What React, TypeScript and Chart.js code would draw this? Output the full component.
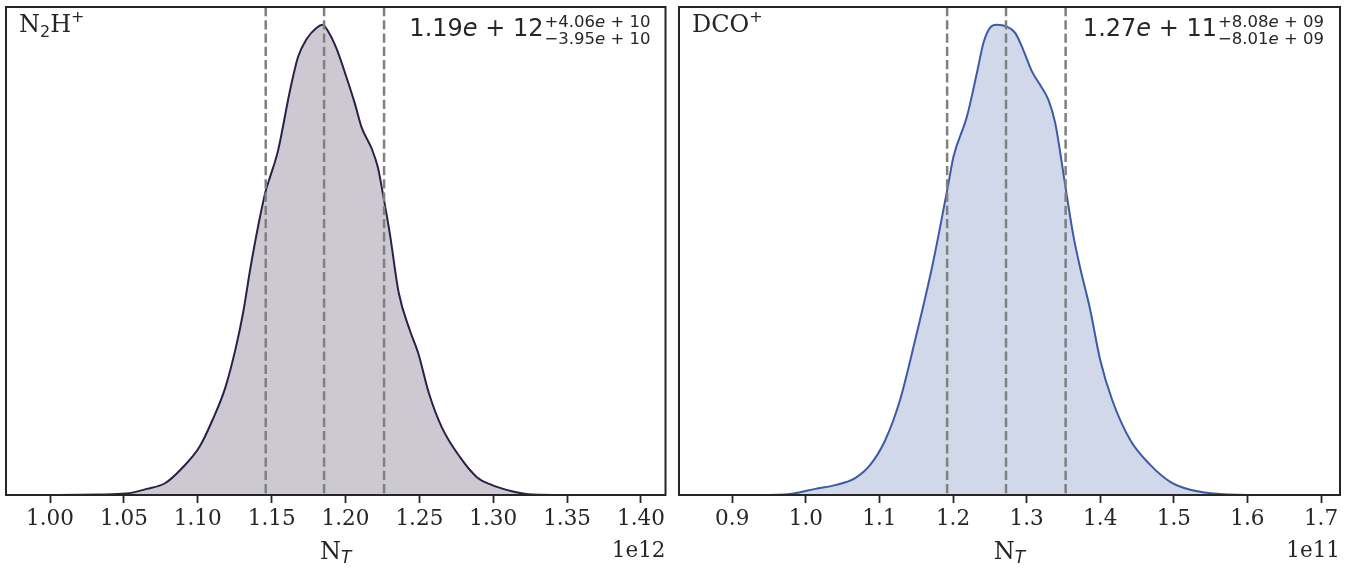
import React, { useEffect, useRef } from "react";
import { Chart, registerables } from "chart.js";

Chart.register(...registerables);

// ---------- data ----------
// N2H+ posterior density (x in units of 1e12, density relative to peak)
const n2hX = [0.9912, 1.0338, 1.0514, 1.0656, 1.0778, 1.0893, 1.1011, 1.1099, 1.1187, 1.1258, 1.1306, 1.1357, 1.1407, 1.1461, 1.1488, 1.1543, 1.1624, 1.1678, 1.1737, 1.1805, 1.1845, 1.1881, 1.194, 1.2007, 1.2064, 1.2109, 1.2177, 1.2219, 1.2253, 1.23, 1.2361, 1.2436, 1.2493, 1.2564, 1.2652, 1.2774, 1.2889, 1.2977, 1.3126, 1.3268, 1.3478, 1.395];
const n2hY = [0.0, 0.001, 0.003, 0.013, 0.025, 0.057, 0.102, 0.159, 0.229, 0.314, 0.386, 0.484, 0.569, 0.648, 0.675, 0.732, 0.86, 0.931, 0.97, 0.994, 1.0, 0.987, 0.949, 0.888, 0.832, 0.782, 0.737, 0.697, 0.641, 0.556, 0.429, 0.35, 0.301, 0.217, 0.144, 0.081, 0.038, 0.023, 0.008, 0.001, 0.0, 0.0];

// DCO+ posterior density (x in units of 1e11)
const dcoX = [0.87, 0.938, 0.979, 0.9924, 1.0128, 1.04, 1.067, 1.0875, 1.108, 1.128, 1.1486, 1.1713, 1.1826, 1.1939, 1.2007, 1.2189, 1.2325, 1.2414, 1.2505, 1.2596, 1.2732, 1.2845, 1.2954, 1.3072, 1.3185, 1.3298, 1.3389, 1.3457, 1.3548, 1.3637, 1.3728, 1.3864, 1.4, 1.4163, 1.4408, 1.468, 1.4951, 1.5223, 1.563, 1.617, 1.685];
const dcoY = [0.0, 0.0, 0.002, 0.006, 0.013, 0.021, 0.036, 0.064, 0.117, 0.202, 0.33, 0.483, 0.571, 0.664, 0.72, 0.805, 0.898, 0.962, 0.994, 1.0, 0.996, 0.983, 0.947, 0.901, 0.872, 0.84, 0.791, 0.728, 0.635, 0.55, 0.483, 0.394, 0.287, 0.202, 0.117, 0.064, 0.028, 0.011, 0.002, 0.0, 0.0];

const n2hTicks = [1.0, 1.05, 1.1, 1.15, 1.2, 1.25, 1.3, 1.35, 1.4];
const n2hTickLabels = ["1.00", "1.05", "1.10", "1.15", "1.20", "1.25", "1.30", "1.35", "1.40"];
const dcoTicks = [0.9, 1.0, 1.1, 1.2, 1.3, 1.4, 1.5, 1.6, 1.7];
const dcoTickLabels = ["0.9", "1.0", "1.1", "1.2", "1.3", "1.4", "1.5", "1.6", "1.7"];

// 16th, 50th, 84th percentiles
const n2hQuantiles = [1.146, 1.1855, 1.2261];
const dcoQuantiles = [1.192, 1.272, 1.353];

// annotation text pieces: value, exponent, upper err, lower err
const n2hAnn = ["1.19", "12", "+4.06", "10", "\u22123.95", "10"];
const dcoAnn = ["1.27", "11", "+8.08", "09", "\u22128.01", "09"];

// species labels: [text, kind] where kind n=normal, sub, sup
const n2hLabel = [["N", "n"], ["2", "sub"], ["H", "n"], ["+", "sup"]];
const dcoLabel = [["DCO", "n"], ["+", "sup"]];

const SERIF = "'DejaVu Serif', serif";
const SANS = "'DejaVu Sans', sans-serif";
const INK = "#262626";

type Run = { t: string; f: string; dy?: number };

function runsWidth(ctx: CanvasRenderingContext2D, runs: Run[]) {
  let w = 0;
  for (const r of runs) {
    ctx.font = r.f;
    w += ctx.measureText(r.t).width;
  }
  return w;
}
function drawRuns(ctx: CanvasRenderingContext2D, runs: Run[], x: number, y: number) {
  let cx = x;
  for (const r of runs) {
    ctx.font = r.f;
    ctx.fillText(r.t, cx, y + (r.dy || 0));
    cx += ctx.measureText(r.t).width;
  }
  return cx;
}

function sciRuns(mant: string, exp: string, size: number): Run[] {
  const n = `${size}px ${SANS}`;
  const it = `italic ${size}px ${SANS}`;
  return [
    { t: mant, f: n },
    { t: "e", f: it },
    { t: " + ", f: n },
    { t: exp, f: n },
  ];
}

function labelRuns(parts: string[][]): Run[] {
  return parts.map(([t, k]) => {
    if (k === "sub") return { t, f: `16px ${SANS}`, dy: 5 };
    if (k === "sup") return { t, f: `16px ${SANS}`, dy: -10 };
    return { t, f: `24px ${SERIF}` };
  });
}

const decor = {
  id: "decor",
  afterDatasetsDraw(chart: any, _args: any, opts: any) {
    const { ctx, chartArea } = chart;
    const xs = chart.scales.x;
    const { left, right, top, bottom } = chartArea;
    ctx.save();
    // dashed quantile lines
    ctx.strokeStyle = "#808080";
    ctx.lineWidth = 2.5;
    ctx.setLineDash([9.25, 4]);
    for (const q of opts.quantiles) {
      const px = xs.getPixelForValue(q);
      ctx.beginPath();
      ctx.moveTo(px, top);
      ctx.lineTo(px, bottom);
      ctx.stroke();
    }
    ctx.setLineDash([]);
    // frame
    ctx.strokeStyle = INK;
    ctx.lineWidth = 2;
    ctx.strokeRect(left, top, right - left, bottom - top);

    ctx.fillStyle = INK;
    ctx.textBaseline = "alphabetic";
    ctx.textAlign = "left";
    // species label
    drawRuns(ctx, labelRuns(opts.label), left + 13, top + 25);

    // annotation
    const a = opts.ann as string[];
    const main = sciRuns(a[0], a[1], 24);
    const up = sciRuns(a[2], a[3], 16.5);
    const dn = sciRuns(a[4], a[5], 16.5);
    const wMain = runsWidth(ctx, main);
    const wStack = Math.max(runsWidth(ctx, up), runsWidth(ctx, dn));
    const xEnd = right - opts.annRight;
    const x0 = xEnd - wStack - wMain - 1;
    drawRuns(ctx, main, x0, top + 29);
    drawRuns(ctx, up, x0 + wMain + 1, top + 20);
    drawRuns(ctx, dn, x0 + wMain + 1, top + 37);

    // x label N_T
    ctx.font = `24px ${SERIF}`;
    const wN = ctx.measureText("N").width;
    ctx.font = `italic 17px ${SANS}`;
    const wT = ctx.measureText("T").width;
    const cx = (left + right) / 2 - (wN + wT) / 2;
    ctx.font = `24px ${SERIF}`;
    ctx.fillText("N", cx, 559);
    ctx.font = `italic 17px ${SANS}`;
    ctx.fillText("T", cx + wN, 563);

    // offset text
    ctx.font = `21.5px ${SERIF}`;
    ctx.textAlign = "right";
    ctx.fillText(opts.offset, right, 557);
    ctx.restore();
  },
};

function makeConfig(
  xs: number[],
  ys: number[],
  ticks: number[],
  tickLabels: string[],
  xmin: number,
  xmax: number,
  line: string,
  fill: string,
  decorOpts: any,
  pad: { left: number; right: number }
): any {
  return {
    type: "line",
    data: {
      datasets: [
        {
          data: xs.map((x, i) => ({ x, y: ys[i] })),
          borderColor: line,
          backgroundColor: fill,
          borderWidth: 2,
          fill: "origin",
          pointRadius: 0,
          cubicInterpolationMode: "monotone",
        },
      ],
    },
    options: {
      animation: false,
      responsive: false,
      devicePixelRatio: 1,
      layout: { autoPadding: false, padding: { left: pad.left, right: pad.right, top: 7, bottom: 0 } },
      plugins: { legend: { display: false }, tooltip: { enabled: false }, decor: decorOpts },
      scales: {
        x: {
          type: "linear",
          min: xmin,
          max: xmax,
          afterFit: (s: any) => {
            s.height = 76;
          },
          afterBuildTicks: (s: any) => {
            s.ticks = ticks.map((v) => ({ value: v }));
          },
          grid: { drawOnChartArea: false, drawTicks: true, tickLength: 8, tickColor: INK, tickWidth: 1.8 },
          border: { display: false },
          ticks: {
            padding: 4,
            color: INK,
            font: { family: "'DejaVu Serif', serif", size: 21.5 },
            maxRotation: 0,
            autoSkip: false,
            callback: (v: number) => {
              const i = ticks.findIndex((t) => Math.abs(t - v) < 1e-9);
              return i >= 0 ? tickLabels[i] : "";
            },
          },
        },
        y: { type: "linear", display: false, min: 0, max: 1.038 },
      },
    },
    plugins: [decor],
  };
}

export default function App() {
  const c1 = useRef<HTMLCanvasElement>(null);
  const c2 = useRef<HTMLCanvasElement>(null);
  useEffect(() => {
    const ch1 = new Chart(
      c1.current!,
      makeConfig(n2hX, n2hY, n2hTicks, n2hTickLabels, 0.9702, 1.4166, "#2c1f48", "rgba(44,31,72,0.24)",
        { quantiles: n2hQuantiles, ann: n2hAnn, annRight: 15, offset: "1e12", label: n2hLabel },
        { left: 6, right: 7.5 })
    );
    const ch2 = new Chart(
      c2.current!,
      makeConfig(dcoX, dcoY, dcoTicks, dcoTickLabels, 0.8277, 1.7258, "#3b5ba5", "rgba(59,91,165,0.24)",
        { quantiles: dcoQuantiles, ann: dcoAnn, annRight: 16, offset: "1e11", label: dcoLabel },
        { left: 6, right: 21 })
    );
    return () => {
      ch1.destroy();
      ch2.destroy();
    };
  }, []);
  return (
    <div style={{ position: "fixed", left: 0, top: 0, width: 1361, height: 571, background: "#fff" }}>
      <canvas ref={c1} width={673} height={571} style={{ position: "absolute", left: 0, top: 0 }} />
      <canvas ref={c2} width={688} height={571} style={{ position: "absolute", left: 673, top: 0 }} />
    </div>
  );
}
